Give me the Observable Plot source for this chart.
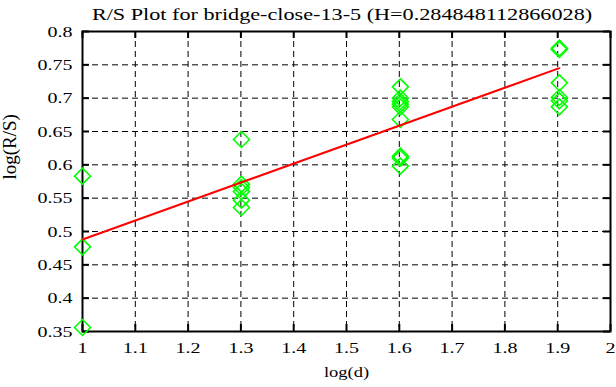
<!DOCTYPE html>
<html>
<head>
<meta charset="utf-8">
<script src="https://cdn.jsdelivr.net/npm/d3@7"></script>
<script src="https://cdn.jsdelivr.net/npm/@observablehq/plot@0.6"></script>
<style>
  html, body { margin: 0; padding: 0; background: #ffffff; }
  svg text { font-family: "Liberation Serif", "Times New Roman", serif !important; }
</style>
</head>
<body>
<div id="chart"></div>
<script>
const titleText = "R/S Plot for bridge-close-13-5 (H=0.284848112866028)";
const xLabel = "log(d)";
const yLabel = "log(R/S)";

const xTicks = [1, 1.1, 1.2, 1.3, 1.4, 1.5, 1.6, 1.7, 1.8, 1.9, 2];
const yTicks = [0.35, 0.4, 0.45, 0.5, 0.55, 0.6, 0.65, 0.7, 0.75, 0.8];

// observed points: log(d) and log(R/S)
const pointX = [
  1, 1, 1,
  1.30103, 1.30103, 1.30103, 1.30103, 1.30103, 1.30103,
  1.60206, 1.60206, 1.60206, 1.60206, 1.60206, 1.60206, 1.60206, 1.60206, 1.60206,
  1.90309, 1.90309, 1.90309, 1.90309, 1.90309, 1.90309
];
const pointY = [
  0.583, 0.477, 0.356,
  0.638, 0.571, 0.566, 0.560, 0.547, 0.536,
  0.717, 0.700, 0.695, 0.691, 0.687, 0.668, 0.613, 0.610, 0.598,
  0.775, 0.773, 0.723, 0.701, 0.696, 0.687
];

// fitted line endpoints
const fitX = [1, 1.90309];
const fitY = [0.488, 0.745];

const points = pointX.map((x, i) => ({x, y: pointY[i]}));
const fit = fitX.map((x, i) => ({x, y: fitY[i]}));

const W = 616, H = 387;
const mTop = 31, mBottom = 56, mLeft = 82, mRight = 6;
const innerW = W - mLeft - mRight;
const innerH = H - mTop - mBottom;
const tickLen = 7;
const fmt = d3.format("~g");
const serif = "Liberation Serif";

const plot = Plot.plot({
  width: W,
  height: H,
  marginTop: mTop,
  marginBottom: mBottom,
  marginLeft: mLeft,
  marginRight: mRight,
  style: {fontFamily: serif, fontSize: "20px", background: "#ffffff", color: "#000000"},
  x: {domain: [1, 2]},
  y: {domain: [0.35, 0.8]},
  marks: [
    Plot.gridX(xTicks, {stroke: "#000000", strokeOpacity: 1, strokeWidth: 1, strokeDasharray: "6,4"}),
    Plot.gridY(yTicks, {stroke: "#000000", strokeOpacity: 1, strokeWidth: 1, strokeDasharray: "6,4"}),
    Plot.tickX(xTicks, {x: d => d, insetTop: innerH - tickLen, stroke: "#000000", strokeWidth: 2}),
    Plot.tickX(xTicks, {x: d => d, insetBottom: innerH - tickLen, stroke: "#000000", strokeWidth: 2}),
    Plot.tickY(yTicks, {y: d => d, insetRight: innerW - tickLen, stroke: "#000000", strokeWidth: 2}),
    Plot.tickY(yTicks, {y: d => d, insetLeft: innerW - tickLen, stroke: "#000000", strokeWidth: 2}),
    Plot.frame({stroke: "#000000", strokeWidth: 2}),
    Plot.axisX(xTicks, {tickSize: 0, tickPadding: 10, tickFormat: fmt, label: null, fill: "#000000", fontFamily: serif}),
    Plot.axisY(yTicks, {tickSize: 0, tickPadding: 10, tickFormat: fmt, label: null, fill: "#000000", fontFamily: serif}),
    Plot.dot(points, {x: "x", y: "y", symbol: "diamond2", r: 7.2, stroke: "#00ff00", strokeWidth: 1.6, fill: "none"}),
    Plot.line(fit, {x: "x", y: "y", stroke: "#ff0000", strokeWidth: 2}),
    Plot.text([titleText], {text: d => d, frameAnchor: "top", dx: -4.5, dy: -23.4, fontSize: 22.2, fill: "#000000", fontFamily: serif}),
    Plot.text([xLabel], {text: d => d, frameAnchor: "bottom", dy: 45, fontSize: 18.5, fill: "#000000", fontFamily: serif}),
    Plot.text([yLabel], {text: d => d, frameAnchor: "left", rotate: -90, dx: -73, dy: -2, fontSize: 19, fill: "#000000", fontFamily: serif})
  ]
});

// the original raster was squeezed vertically: emulate the squashed glyphs
d3.select(plot).selectAll("text").each(function() {
  const t = this.getAttribute("transform") || "";
  if (t && !t.includes("rotate")) {
    this.setAttribute("transform", t + " scale(1,0.78)");
  }
});

document.getElementById("chart").appendChild(plot);
</script>
</body>
</html>
